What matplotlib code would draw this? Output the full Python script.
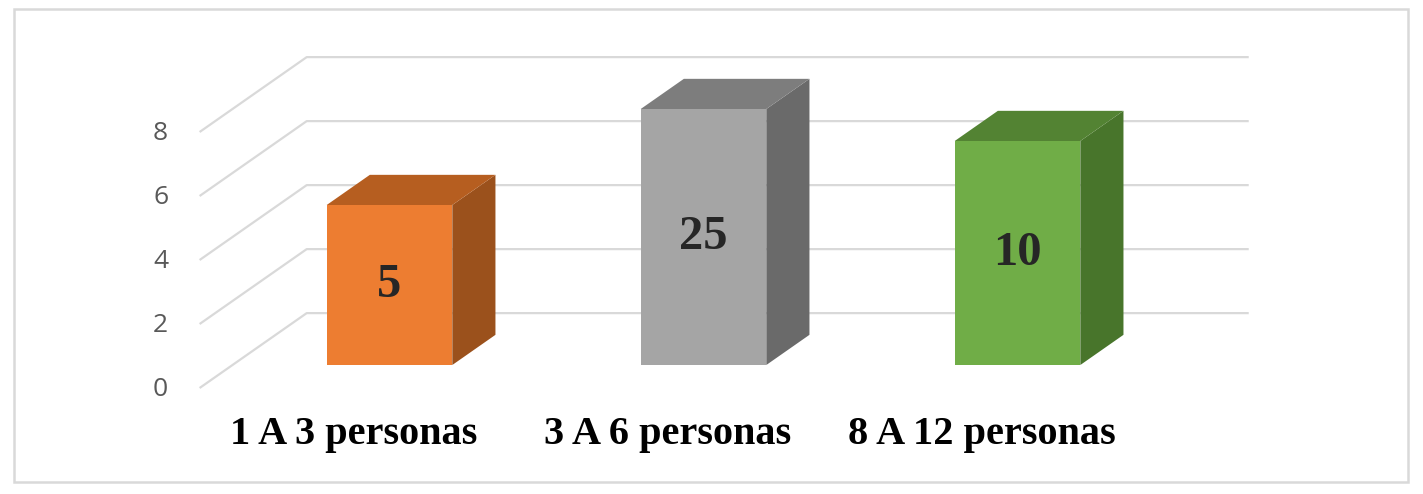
import matplotlib
matplotlib.use('Agg')
import matplotlib.pyplot as plt
from matplotlib.patches import Polygon, Rectangle

# data
categories = ['1 A 3 personas', '3 A 6 personas', '8 A 12 personas']
heights = [5, 8, 7]
value_labels = ['5', '25', '10']
yticks = [0, 2, 4, 6, 8]

front_colors = ['#ED7D31', '#A5A5A5', '#70AD47']
top_colors = ['#B65E20', '#7D7D7D', '#538333']
side_colors = ['#9B511C', '#6A6A6A', '#48752B']

# oblique "3D" projection (depth 0 = front plane, 1 = back wall)
DX = 0.341      # x shift of full depth, category units
DY = 2.34       # y shift of full depth, value units
Z0, Z1 = 0.307, 0.71   # bar front / back depth
BAR_W = 0.4

GRID = '#d9d9d9'

fig = plt.figure(figsize=(14.23, 4.94), dpi=100)
ax = fig.add_axes([0, 0, 1, 1])
ax.set_xlim(-1.1357, 3.396)
ax.set_ylim(-3.3125, 12.125)
ax.axis('off')

# figure border
fig.patches.append(Rectangle((14 / 1423, 12 / 494), 1394 / 1423, 473 / 494,
                             transform=fig.transFigure, fill=False,
                             edgecolor=GRID, linewidth=1.8))

x_lo, x_hi = -0.5, len(categories) - 0.5

# gridlines: side wall diagonal + back wall horizontal
for v in yticks:
    ax.plot([x_lo, x_lo + DX, x_hi + DX], [v, v + DY, v + DY],
            color=GRID, linewidth=1.6, solid_capstyle='butt', zorder=1)
    ax.text(x_lo - 0.10, v - 0.05, str(v), ha='right', va='center',
            fontsize=19, color='#595959', family='Open Sans')

# bars
for i, h in enumerate(heights):
    xl = i - BAR_W / 2 + Z0 * DX
    xr = i + BAR_W / 2 + Z0 * DX
    b0 = Z0 * DY
    b1 = Z1 * DY
    ddx = (Z1 - Z0) * DX
    front = Polygon([(xl, b0), (xr, b0), (xr, b0 + h), (xl, b0 + h)],
                    closed=True, facecolor=front_colors[i], edgecolor='none', zorder=3)
    side = Polygon([(xr, b0), (xr + ddx, b1), (xr + ddx, b1 + h), (xr, b0 + h)],
                   closed=True, facecolor=side_colors[i], edgecolor='none', zorder=2)
    top = Polygon([(xl, b0 + h), (xr, b0 + h), (xr + ddx, b1 + h), (xl + ddx, b1 + h)],
                  closed=True, facecolor=top_colors[i], edgecolor='none', zorder=2)
    for p in (side, top, front):
        ax.add_patch(p)
    ax.text((xl + xr) / 2, b0 + h / 2, value_labels[i], ha='center', va='center',
            fontsize=35, fontweight='bold', color='#262626',
            family='Liberation Serif', zorder=4)

# category labels on the front plane
for i, c in enumerate(categories):
    ax.text(i - 0.01, -1.75, c, ha='center', va='baseline', fontsize=29,
            fontweight='bold', color='black', family='Liberation Serif')

fig.savefig('out.png', dpi=100, facecolor='white')
